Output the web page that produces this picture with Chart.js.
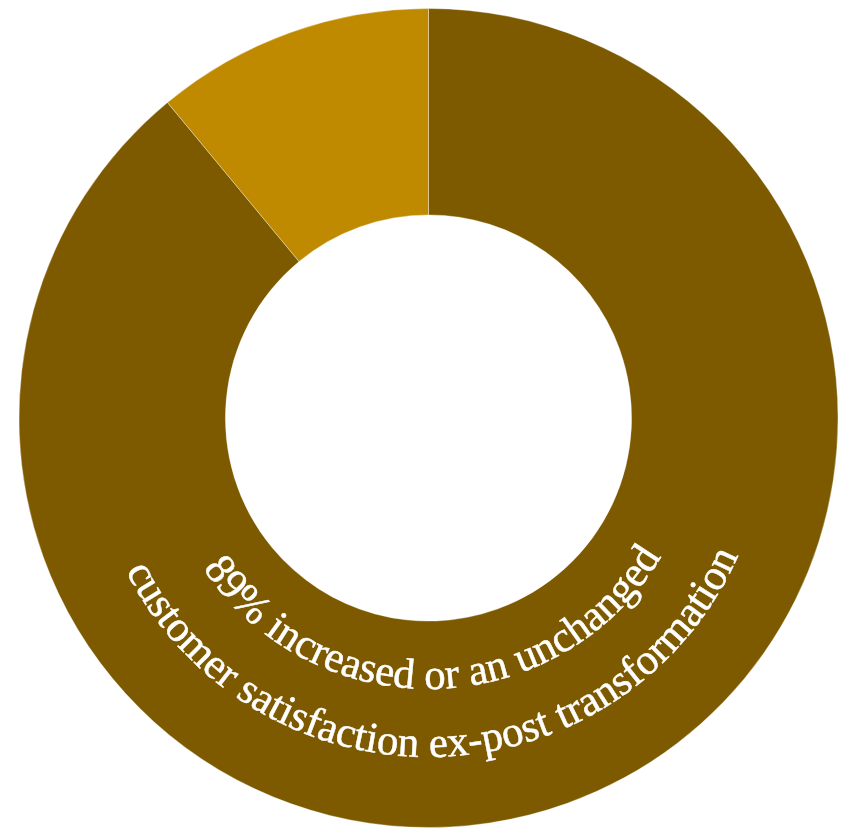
<!DOCTYPE html>
<html>
<head>
<meta charset="utf-8">
<script src="https://cdn.jsdelivr.net/npm/chart.js@4/dist/chart.umd.min.js"></script>
<style>
  html, body { margin: 0; padding: 0; background: #ffffff; }
  #wrap { width: 844px; height: 830px; }
</style>
</head>
<body>
<div id="wrap"><canvas id="c" width="844" height="830"></canvas></div>
<script>
// ---- data ----
const categories = ["Increased or unchanged", "Decreased"];
const values = [89, 11];
const sliceColors = ["#7D5A00", "#BF8900"];
const labelLines = [
  "89% increased or an unchanged",
  "customer satisfaction ex-post transformation"
];

const curvedTextPlugin = {
  id: 'curvedText',
  afterDatasetsDraw(chart) {
    const meta = chart.getDatasetMeta(0);
    const arc = meta.data[0];
    if (!arc) return;
    const cx = arc.x, cy = arc.y;
    const ctx = chart.ctx;
    const font = '43px "Liberation Serif", "Times New Roman", serif';
    const radii = [271, 339];
    const centerAngle = Math.PI / 2 - 0.025;
    ctx.save();
    ctx.font = font;
    ctx.fillStyle = '#ffffff';
    ctx.strokeStyle = '#ffffff';
    ctx.lineWidth = 0.5;
    ctx.textAlign = 'center';
    ctx.textBaseline = 'alphabetic';
    labelLines.forEach((txt, li) => {
      const r = radii[li];
      const total = ctx.measureText(txt).width;
      const start = centerAngle + total / (2 * r);
      for (let i = 0; i < txt.length; i++) {
        const pre = ctx.measureText(txt.slice(0, i)).width;
        const cw = ctx.measureText(txt[i]).width;
        const a = start - (pre + cw / 2) / r;
        ctx.save();
        ctx.translate(cx + r * Math.cos(a), cy + r * Math.sin(a));
        ctx.rotate(a - Math.PI / 2);
        ctx.fillText(txt[i], 0, 0);
        ctx.strokeText(txt[i], 0, 0);
        ctx.restore();
      }
    });
    ctx.restore();
  }
};

new Chart(document.getElementById('c'), {
  type: 'doughnut',
  data: {
    labels: categories,
    datasets: [{
      data: values,
      backgroundColor: sliceColors,
      borderColor: 'rgba(255,255,255,0.35)',
      borderWidth: 1
    }]
  },
  options: {
    responsive: false,
    animation: false,
    cutout: '49.6%',
    layout: { padding: { left: 18, right: 5, top: 8, bottom: 2 } },
    plugins: {
      legend: { display: false },
      tooltip: { enabled: false }
    }
  },
  plugins: [curvedTextPlugin]
});
</script>
</body>
</html>
